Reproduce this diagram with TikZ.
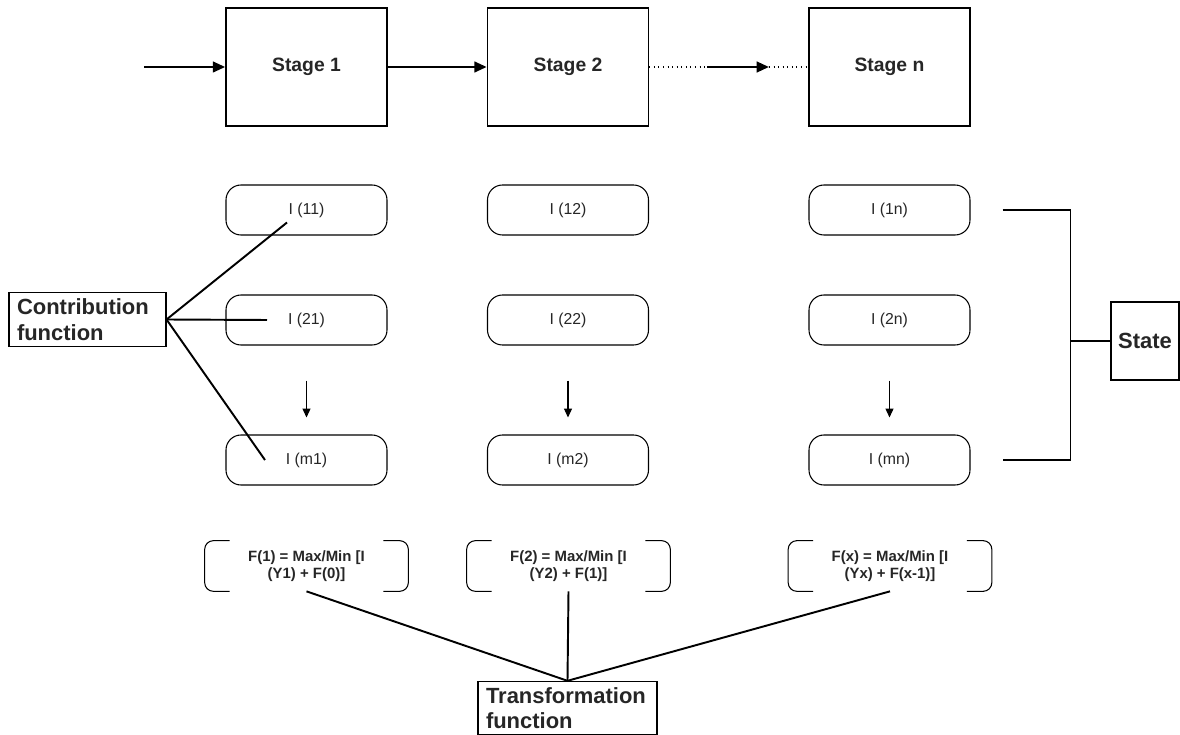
\documentclass[tikz,border=0pt]{standalone}
\usepackage{fontspec}
\setmainfont{Liberation Sans}
\usetikzlibrary{arrows.meta}

\begin{document}
\begin{tikzpicture}[
    stagebox/.style={draw, line width=0.9pt, minimum width=3.22cm, minimum height=2.36cm, font=\fontsize{11}{13}\selectfont\bfseries, text=black!85},
    itembox/.style={draw, line width=0.6pt, rounded corners=0.3cm, minimum width=3.22cm, minimum height=1.0cm, font=\fontsize{9}{11}\selectfont, text=black!85},
    labelbox/.style={draw, line width=0.6pt, align=left, inner xsep=0.16cm, font=\fontsize{12.5}{14.5}\selectfont\bfseries, text=black!85},
    formula/.style={minimum width=4.06cm, minimum height=1.0cm, align=center, font=\fontsize{8.5}{10}\selectfont\bfseries, text=black!85},
    flow/.style={line width=1.4pt, -{Triangle[length=7pt,width=6pt]}},
    link/.style={line width=1.1pt},
    down/.style={line width=0.6pt, -{Triangle[length=5pt,width=4.5pt]}, shorten <=0.7cm, shorten >=0.34cm}
  ]
  \useasboundingbox (0,0) rectangle (23.6,-14.7);

  % stages
  \node[stagebox] (s1) at (6.13,-1.34) {Stage 1};
  \node[stagebox] (s2) at (11.36,-1.34) {Stage 2};
  \node[stagebox] (sn) at (17.79,-1.34) {Stage n};
  \coordinate (in) at (2.88,-1.34); % input
  \coordinate (d1) at (14.14,-1.34);
  \coordinate (d2) at (15.38,-1.34);
  \draw[flow] (in) -- (s1);
  \draw[flow] (s1) -- (s2);
  \draw[dotted, line width=0.6pt] (s2) -- (d1);
  \draw[flow] (d1) -- (d2);
  \draw[dotted, line width=0.6pt] (d2) -- (sn);

  % items of each stage
  \node[itembox] (i11) at (6.13,-4.2) {I (11)};
  \node[itembox] (i21) at (6.13,-6.4) {I (21)};
  \node[itembox] (im1) at (6.13,-9.2) {I (m1)};
  \node[itembox] (i12) at (11.36,-4.2) {I (12)};
  \node[itembox] (i22) at (11.36,-6.4) {I (22)};
  \node[itembox] (im2) at (11.36,-9.2) {I (m2)};
  \node[itembox] (i1n) at (17.79,-4.2) {I (1n)};
  \node[itembox] (i2n) at (17.79,-6.4) {I (2n)};
  \node[itembox] (imn) at (17.79,-9.2) {I (mn)};
  \draw[down] (i21) -- (im1);
  \draw[down] (i22) -- (im2);
  \draw[down] (i2n) -- (imn);

  % contribution function
  \node[labelbox, text width=2.82cm, minimum height=1.02cm] (contrib) at (1.75,-6.39) {Contribution\\function};
  \draw[link] (contrib.east) -- ([shift={(-0.39,-0.25)}]i11.center);
  \draw[link] (contrib.east) -- ([xshift=-0.79cm]i21.center);
  \draw[link] (contrib.east) -- ([xshift=-0.83cm]im1.center);

  % state
  \node[draw, line width=0.6pt, minimum width=1.36cm, minimum height=1.56cm, font=\fontsize{12.5}{14.5}\selectfont\bfseries, text=black!85] (state) at (22.9,-6.82) {State};
  \draw[link] ([xshift=0.64cm]i1n.east) -| ([xshift=-0.8cm]state.west) |- ([xshift=0.64cm]imn.east);
  \draw[link] ([xshift=-0.8cm]state.west) -- (state.west);

  % recursive formulas
  \node[formula] (f1) at (6.13,-11.32) {F(1) = Max/Min [I\\(Y1) + F(0)]};
  \node[formula] (f2) at (11.37,-11.32) {F(2) = Max/Min [I\\(Y2) + F(1)]};
  \node[formula] (fn) at (17.8,-11.32) {F(x) = Max/Min [I\\(Yx) + F(x-1)]};
  \foreach \f in {f1,f2,fn}{
    \draw[line width=0.6pt, rounded corners=5pt] ([xshift=0.5cm]\f.north west) -- (\f.north west) -- (\f.south west) -- ([xshift=0.5cm]\f.south west);
    \draw[line width=0.6pt, rounded corners=5pt] ([xshift=-0.5cm]\f.north east) -- (\f.north east) -- (\f.south east) -- ([xshift=-0.5cm]\f.south east);
  }

  % transformation function
  \node[labelbox, text width=3.26cm, minimum height=1.04cm] (trans) at (11.35,-14.16) {Transformation\\function};
  \draw[link] (f1.south) -- (trans.north);
  \draw[link] (f2.south) -- (trans.north);
  \draw[link] (fn.south) -- (trans.north);
\end{tikzpicture}
\end{document}
